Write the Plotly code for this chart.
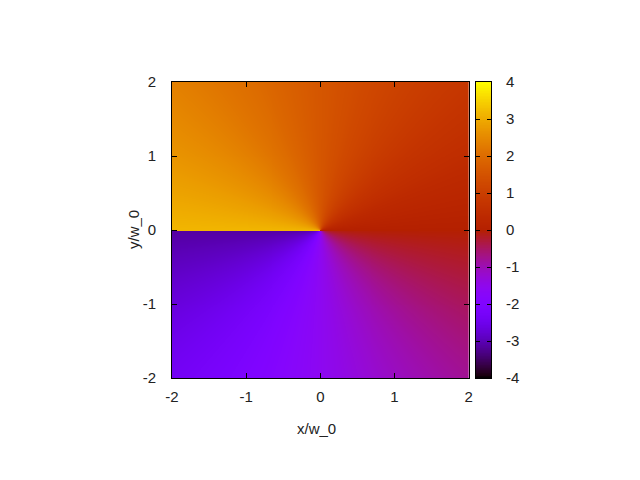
import numpy as np
import plotly.graph_objects as go

# grid coordinates (x/w_0, y/w_0) and phase field
x_vals = np.linspace(-2, 2, 301)
y_vals = np.linspace(-2, 2, 301)
XX, YY = np.meshgrid(x_vals, y_vals)
phase = np.arctan2(YY, XX)

cb_values = np.linspace(-4, 4, 401)
tick_main = [-2, -1, 0, 1, 2]
tick_main_text = ["-2", "-1", "0", "1", "2"]
tick_cb = [-4, -3, -2, -1, 0, 1, 2, 3, 4]
tick_cb_text = ["-4", "-3", "-2", "-1", "0", "1", "2", "3", "4"]

# gnuplot rgbformulae 7,5,15
stops = np.linspace(0, 1, 101)
cs = []
for g in stops:
    r = np.sqrt(g)
    gg = g ** 3
    b = np.clip(np.sin(2 * np.pi * g), 0, 1)
    cs.append([float(g), f"rgb({int(round(r*255))},{int(round(gg*255))},{int(round(b*255))})"])

fig = go.Figure()
fig.add_trace(go.Heatmap(x=x_vals, y=y_vals, z=phase, colorscale=cs, zmin=-4, zmax=4,
                         showscale=False, xaxis="x", yaxis="y", hoverinfo="skip"))
fig.add_trace(go.Heatmap(x=[0, 1], y=cb_values, z=[[v, v] for v in cb_values], colorscale=cs,
                         zmin=-4, zmax=4, showscale=False, xaxis="x2", yaxis="y2", hoverinfo="skip"))

font = dict(family="Liberation Sans, Arial, sans-serif", size=15, color="#222")
axis_common = dict(showline=True, linecolor="black", linewidth=1, mirror="ticks",
                   ticks="inside", ticklen=5, tickcolor="black", showgrid=False,
                   zeroline=False, tickfont=font, automargin=False)

# plot area in screen pixels: x 172..468.7 (main), 476..491 (colour box), y 82..378
W = 491 - 172
H = 378 - 82
fig.update_layout(
    width=624, height=464,
    margin=dict(l=164, r=141, t=74, b=94),
    paper_bgcolor="white", plot_bgcolor="white",
    xaxis=dict(domain=[0, (468.7 - 172) / W], range=[-2, 2], tickvals=tick_main,
               ticktext=tick_main_text, ticklabelstandoff=5, **axis_common),
    yaxis=dict(domain=[0, 1], range=[-2, 2], tickvals=tick_main, ticktext=tick_main_text,
               ticklabelstandoff=12, **axis_common),
    xaxis2=dict(domain=[(476 - 172) / W, 1], range=[-0.5, 1.5], showticklabels=False,
                showline=True, linecolor="black", mirror=True, ticks="", showgrid=False,
                zeroline=False, anchor="y2", automargin=False),
    yaxis2=dict(domain=[0, 1], range=[-4, 4], tickvals=tick_cb, ticktext=tick_cb_text,
                side="right", anchor="x2", ticklabelstandoff=11,
                showline=True, linecolor="black", linewidth=1, mirror="ticks", ticks="inside",
                ticklen=4, tickcolor="black", showgrid=False, zeroline=False, tickfont=font,
                automargin=False),
    showlegend=False,
    annotations=[
        dict(text="x/w_0", xref="paper", yref="paper", x=(316 - 172) / W, y=(378 - 428) / H,
             showarrow=False, font=font, xanchor="center", yanchor="middle"),
        dict(text="y/w_0", xref="paper", yref="paper", x=(133 - 172) / W, y=(378 - 230) / H,
             showarrow=False, font=font, textangle=-90, xanchor="center", yanchor="middle"),
    ],
)

fig.write_html("out.html")
